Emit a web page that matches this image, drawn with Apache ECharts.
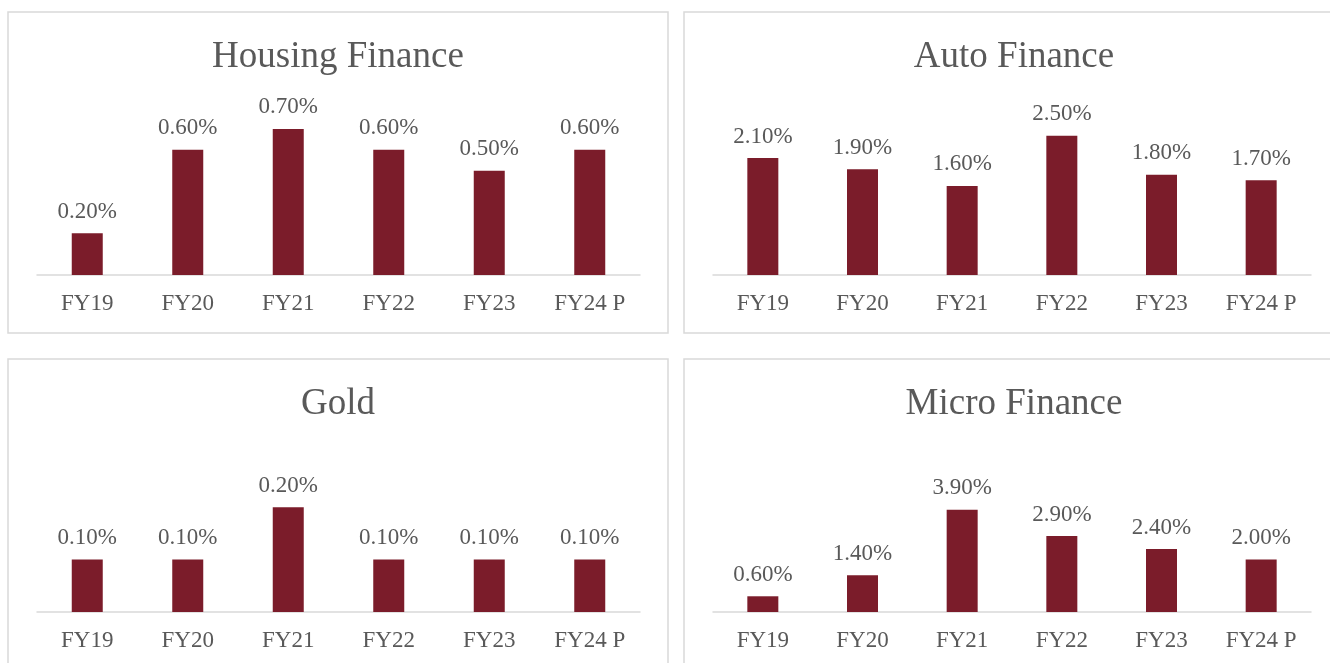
<!DOCTYPE html>
<html>
<head>
<meta charset="utf-8">
<script src="https://cdn.jsdelivr.net/npm/echarts@6/dist/echarts.min.js"></script>
<style>
html, body { margin: 0; padding: 0; background: #fff; }
#main { width: 1330px; height: 663px; }
</style>
</head>
<body>
<div id="main"></div>
<script>
var years = ['FY19', 'FY20', 'FY21', 'FY22', 'FY23', 'FY24 P'];

var housing = [0.2, 0.6, 0.7, 0.6, 0.5, 0.6];
var auto = [2.1, 1.9, 1.6, 2.5, 1.8, 1.7];
var gold = [0.1, 0.1, 0.2, 0.1, 0.1, 0.1];
var micro = [0.6, 1.4, 3.9, 2.9, 2.4, 2.0];

var titles = ['Housing Finance', 'Auto Finance', 'Gold', 'Micro Finance'];
var seriesData = [housing, auto, gold, micro];
var yMax = [0.8, 3.0, 0.25, 5.0];

// panel layout (borders + plot areas)
var panels = [
	{ x: 8, y: 12, w: 660, h: 321, gl: 37, gw: 603, gt: 108, gb: 275 },
	{ x: 684, y: 12, w: 660, h: 321, gl: 713, gw: 598, gt: 108, gb: 275 },
	{ x: 8, y: 359, w: 660, h: 320, gl: 37, gw: 603, gt: 481, gb: 612 },
	{ x: 684, y: 359, w: 660, h: 320, gl: 713, gw: 598, gt: 481, gb: 612 }
];

var textColor = '#595959';
var barColor = '#7b1c2a';
var fontFam = '"Liberation Serif", "Times New Roman", serif';

var chart = echarts.init(document.getElementById('main'));

var option = {
	animation : false,
	title : [],
	grid : [],
	xAxis : [],
	yAxis : [],
	series : [],
	graphic : []
};

for (var i = 0; i < panels.length; i++) {
	var p = panels[i];

	option.graphic.push({
		type : 'rect',
		shape : { x : p.x, y : p.y, width : p.w, height : p.h },
		style : { fill : 'none', stroke : '#d9d9d9', lineWidth : 1.5 },
		z : -1
	});

	option.title.push({
		text : titles[i],
		left : p.x + p.w / 2 > 1330 ? 1007 : p.x + p.w / 2,
		top : p.y + 27,
		textAlign : 'center',
		padding : 0,
		textStyle : {
			fontFamily : fontFam,
			fontSize : 37,
			fontWeight : 'normal',
			color : textColor
		}
	});

	option.grid.push({
		left : p.gl,
		width : p.gw,
		top : p.gt,
		height : p.gb - p.gt
	});

	option.xAxis.push({
		type : 'category',
		gridIndex : i,
		data : years,
		axisLine : { show : true, lineStyle : { color : '#d9d9d9', width : 1.5 } },
		axisTick : { show : false },
		axisLabel : {
			margin : 17,
			fontFamily : fontFam,
			fontSize : 23,
			color : textColor
		}
	});

	option.yAxis.push({
		type : 'value',
		gridIndex : i,
		min : 0,
		max : yMax[i],
		show : false
	});

	option.series.push({
		type : 'bar',
		xAxisIndex : i,
		yAxisIndex : i,
		data : seriesData[i],
		barWidth : 31,
		itemStyle : { color : barColor },
		label : {
			show : true,
			position : 'top',
			distance : 10,
			fontFamily : fontFam,
			fontSize : 23,
			color : textColor,
			formatter : function(v) {
				return v.value.toFixed(2) + '%';
			}
		}
	});
}

chart.setOption(option);
</script>
</body>
</html>
